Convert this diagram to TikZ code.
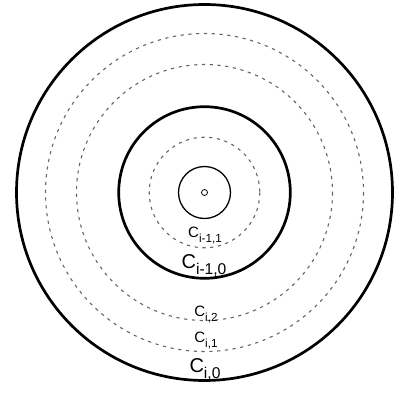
\documentclass[tikz,border=0pt]{standalone}
\usepackage{fontspec}
\setmainfont{Liberation Sans}
\usepackage{tikz}
\usetikzlibrary{positioning}

\newcommand{\lblsub}[2]{#1\raisebox{-0.3em}{\scalebox{0.78}{#2}}}

\begin{document}
\begin{tikzpicture}[x=1pt, y=-1pt,
  ring/.style={draw, line width=2.7pt},
  thinring/.style={draw, line width=1.3pt},
  layer/.style={draw=black!60, line width=1.1pt, dash pattern=on 3.2pt off 4.6pt},
  small/.style={anchor=base, inner sep=0pt, font=\fontsize{15}{17}\selectfont},
  big/.style={anchor=base, inner sep=0pt, font=\fontsize{20}{22}\selectfont}]
\useasboundingbox (0,0) rectangle (396,393);
\coordinate (o) at (204.5,192.5);
% solid rings
\draw[ring] (o) circle (188);
\draw[ring] (o) circle (85.8);
\draw[thinring] (o) circle (26);
\draw[line width=0.8pt] (o) circle (3);
% dashed rings
\foreach \r in {159, 128, 55.3} \draw[layer] (o) circle (\r);
% labels
\node[small] (ci11) at (205,237.5) {\lblsub{C}{i-1,1}};
\node[big]   (ci10) at (204,268.5) {\lblsub{C}{i-1,0}};
\node[small] (c2)   at (206,316.5) {\lblsub{C}{i,2}};
\node[small] (c1)   at (206,342.5) {\lblsub{C}{i,1}};
\node[big]   (c0)   at (205,372)   {\lblsub{C}{i,0}};
\end{tikzpicture}
\end{document}
